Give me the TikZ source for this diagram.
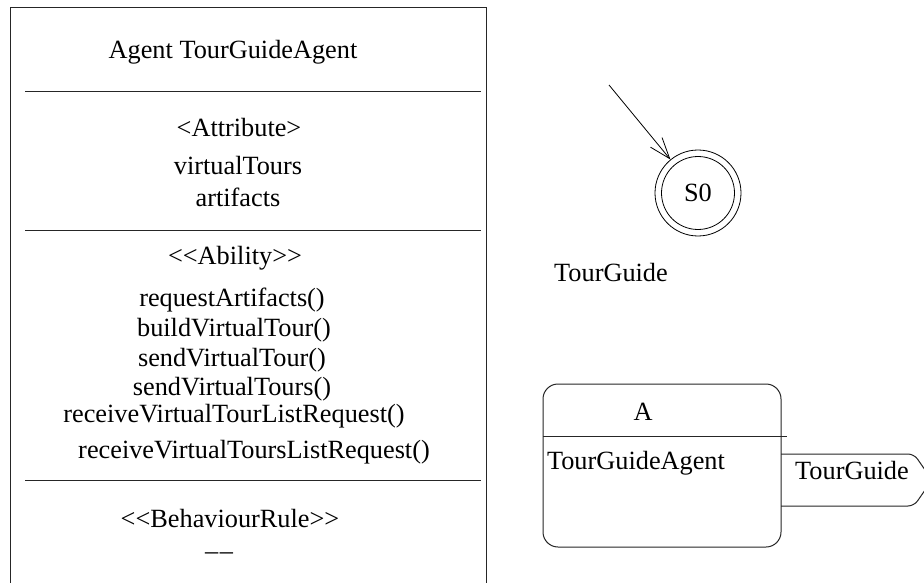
\documentclass[tikz,border=0pt]{standalone}
\usepackage{fontspec}
\setmainfont{Liberation Serif}
\usetikzlibrary{arrows.meta}
\tikzset{
  txt/.style={inner sep=0pt, font=\fontsize{26.3}{29}\selectfont, anchor=center},
  ln/.style={line width=1pt, draw=black!85},
}
\begin{document}
\begin{tikzpicture}[x=1pt,y=-1pt]
\clip (0,0) rectangle (924,583);
\fill[white] (0,0) rectangle (924,583);
% agent class box
\draw[ln] (10,8) rectangle (486,600);
\draw[ln] (25,92) -- (481,92);
\draw[ln] (25,230) -- (481,230);
\draw[ln] (25,480) -- (481,480);
\node[txt] (name) at (233,52) {Agent TourGuideAgent};
\node[txt] (attr) at (239,128) {{<}Attribute{>}};
\node[txt] (vt) at (238,166) {virtualTours};
\node[txt] (art) at (238,197) {artifacts};
\node[txt] (abil) at (235,258) {{<}{<}Ability{>}{>}};
\node[txt] (m1) at (232,300) {requestArtifacts()};
\node[txt] (m2) at (234,330) {buildVirtualTour()};
\node[txt] (m3) at (232,360) {sendVirtualTour()};
\node[txt] (m4) at (232,389) {sendVirtualTours()};
\node[txt] (m5) at (234,416) {receiveVirtualTourListRequest()};
\node[txt] (m6) at (254,452) {receiveVirtualToursListRequest()};
\node[txt] (beh) at (230,519) {{<}{<}BehaviourRule{>}{>}};
\node[txt] (dash) at (219,556) {\textendash\kern1.5pt\textendash};
% state S0
\node[circle, draw, line width=0.8pt, minimum size=86pt, inner sep=0pt] (s0o) at (698,193) {};
\node[circle, draw, line width=0.8pt, minimum size=73pt, inner sep=0pt, txt] (s0) at (698,193) {S0};
\coordinate (start) at (609,85);
\draw[line width=0.8pt, -{Straight Barb[length=21pt,width=15pt,line width=0.8pt]}] (start) -- (s0o);
\node[txt] (tg) at (611,273) {TourGuide};
% role box
\draw[ln, rounded corners=15pt] (543,384) rectangle (781,547);
\coordinate (rl) at (543,436);
\coordinate (rr) at (787,436);
\draw[ln] (rl) -- (rr);
\node[txt] (A) at (643,412) {A};
\node[txt] (tga) at (636,463) {TourGuideAgent};
% tab
\coordinate (t1) at (781,454);
\coordinate (t2) at (781,506);
\draw[ln, rounded corners=6pt] (t1) -- (914,454) -- (932,480) -- (914,506) -- (t2);
\node[txt] (tab) at (852,471) {TourGuide};
\end{tikzpicture}
\end{document}
